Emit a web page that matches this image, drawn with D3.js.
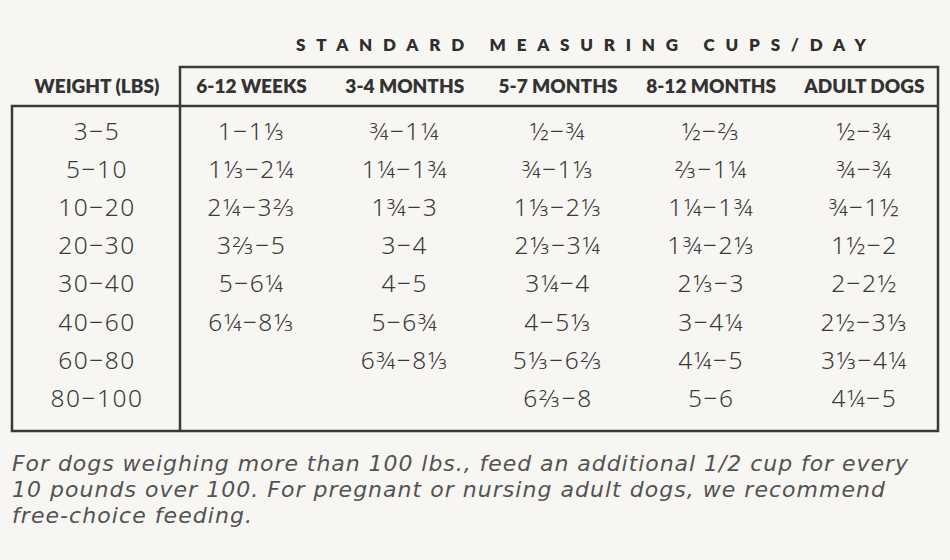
<!DOCTYPE html>
<html>
<head>
<meta charset="utf-8">
<script src="https://cdn.jsdelivr.net/npm/d3@7"></script>
<style>
  body { margin: 0; background: #f7f6f2; }
  svg { display: block; }
</style>
</head>
<body>
<div id="feeding_table"></div>
<script>
// table data
const title = "STANDARD MEASURING CUPS/DAY";
const weightLabel = "WEIGHT (LBS)";
const weights = ["3−5", "5−10", "10−20", "20−30", "30−40", "40−60", "60−80", "80−100"];
const ageGroups = ["6-12 WEEKS", "3-4 MONTHS", "5-7 MONTHS", "8-12 MONTHS", "ADULT DOGS"];
const weeks6to12 = ["1−1⅓", "1⅓−2¼", "2¼−3⅔", "3⅔−5", "5−6¼", "6¼−8⅓", "", ""];
const months3to4 = ["¾−1¼", "1¼−1¾", "1¾−3", "3−4", "4−5", "5−6¾", "6¾−8⅓", ""];
const months5to7 = ["½−¾", "¾−1⅓", "1⅓−2⅓", "2⅓−3¼", "3¼−4", "4−5⅓", "5⅓−6⅔", "6⅔−8"];
const months8to12 = ["½−⅔", "⅔−1¼", "1¼−1¾", "1¾−2⅓", "2⅓−3", "3−4¼", "4¼−5", "5−6"];
const adultDogs = ["½−¾", "¾−¾", "¾−1½", "1½−2", "2−2½", "2½−3⅓", "3⅓−4¼", "4¼−5"];
const footnote = [
  "For dogs weighing more than 100 lbs., feed an additional 1/2 cup for every",
  "10 pounds over 100. For pregnant or nursing adult dogs, we recommend",
  "free-choice feeding."
];
const footnoteWidths = [896, 873, 240];

const columns = [weeks6to12, months3to4, months5to7, months8to12, adultDogs];

const width = 950, height = 560;
const ink = "#3a3a3a";

const svg = d3.select("#feeding_table")
  .append("svg")
    .attr("width", width)
    .attr("height", height);

svg.append("rect")
  .attr("width", width).attr("height", height)
  .attr("fill", "#f7f6f2");

// scales
const x = d3.scaleBand().domain(ageGroups).range([175, 941]);
const y = d3.scaleBand().domain(weights).range([112, 417]);
const weightX = 97;

// frame lines
const left = 12, split = 180, right = 938, headTop = 67, headBottom = 106, bottom = 431;
svg.append("path")
  .attr("stroke", ink)
  .attr("stroke-width", 2.5)
  .attr("fill", "none")
  .attr("d", `M${split},${bottom}V${headTop}H${right}V${bottom}H${left}V${headBottom}H${right}`);

// title
svg.append("text")
  .attr("x", 296)
  .attr("y", 51)
  .attr("textLength", 570)
  .attr("lengthAdjust", "spacing")
  .attr("font-family", "Lato, 'Open Sans', sans-serif")
  .attr("font-weight", 800)
  .attr("font-size", 17)
  .attr("fill", "#2e2e2e")
  .text(title);

// header row
const head = svg.append("g")
  .attr("font-family", "Lato, 'Open Sans', sans-serif")
  .attr("font-weight", 800)
  .attr("font-size", 19)
  .attr("fill", "#333")
  .attr("text-anchor", "middle");
head.append("text")
  .attr("x", weightX).attr("y", 93)
  .text(weightLabel);
head.selectAll("text.age")
  .data(ageGroups)
  .join("text")
    .attr("class", "age")
    .attr("x", d => x(d) + x.bandwidth() / 2)
    .attr("y", 93)
    .text(d => d);

// body cells
const body = svg.append("g")
  .attr("font-family", "'Noto Sans', 'DejaVu Sans', sans-serif")
  .attr("font-weight", 300)
  .attr("font-size", 24.5)
  .attr("letter-spacing", 1.5)
  .attr("fill", ink)
  .attr("text-anchor", "middle");

body.selectAll("text.weight")
  .data(weights)
  .join("text")
    .attr("class", "weight")
    .attr("x", weightX)
    .attr("y", d => y(d) + y.bandwidth() / 2)
    .attr("dy", "0.36em")
    .text(d => d);

columns.forEach((col, ci) => {
  body.append("g")
    .selectAll("text")
    .data(col.map((v, i) => ({v: v, w: weights[i]})).filter(d => d.v !== ""))
    .join("text")
      .attr("x", x(ageGroups[ci]) + x.bandwidth() / 2)
      .attr("y", d => y(d.w) + y.bandwidth() / 2)
      .attr("dy", "0.36em")
      .text(d => d.v);
});

// footnote
svg.append("g")
  .attr("font-family", "'DejaVu Sans', 'Noto Sans', sans-serif")
  .attr("font-style", "italic")
  .attr("font-weight", 300)
  .attr("font-size", 22)
  .attr("fill", "#535353")
  .selectAll("text")
  .data(footnote)
  .join("text")
    .attr("x", 12)
    .attr("y", (d, i) => 471 + i * 26)
    .attr("textLength", (d, i) => footnoteWidths[i])
    .attr("lengthAdjust", "spacing")
    .text(d => d);
</script>
</body>
</html>
